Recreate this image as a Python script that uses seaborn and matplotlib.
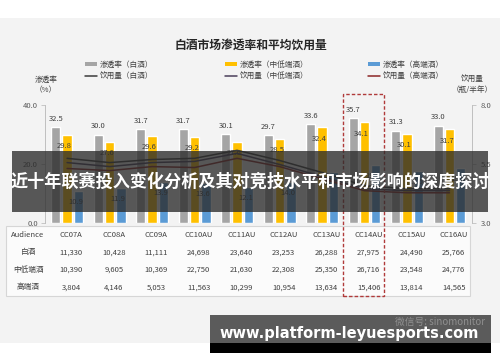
import numpy as np
import pandas as pd
import matplotlib
matplotlib.use('Agg')
import matplotlib.pyplot as plt
import matplotlib.transforms as mtrans
import seaborn as sns
from matplotlib.patches import Rectangle, Patch
from matplotlib.lines import Line2D

# ---------------- data ----------------
cats = ['CC07A', 'CC08A', 'CC09A', 'CC10AU', 'CC11AU', 'CC12AU', 'CC13AU', 'CC14AU', 'CC15AU', 'CC16AU']
rate_baijiu = [32.5, 30.0, 31.7, 31.7, 30.1, 29.7, 33.6, 35.7, 31.3, 33.0]
rate_mid = [29.8, 27.6, 29.6, 29.2, 27.6, 28.5, 32.4, 34.1, 30.1, 31.7]
rate_high = [10.9, 11.9, 13.9, 13.6, 12.1, 14.0, 17.4, 19.7, 17.6, 18.8]
vol_baijiu = [5.74, 5.56, 5.69, 5.74, 6.08, 5.65, 5.14, 4.58, 4.45, 4.45]
vol_mid = [5.56, 5.39, 5.56, 5.61, 5.95, 5.48, 4.97, 4.45, 4.37, 4.37]
vol_high = [5.31, 5.22, 5.39, 5.35, 5.74, 5.39, 4.88, 4.37, 4.28, 4.28]
aud_baijiu = [11330, 10428, 11111, 24698, 23640, 23253, 26288, 27975, 24490, 25766]
aud_mid = [10390, 9605, 10369, 22750, 21630, 22308, 25350, 26716, 23548, 24776]
aud_high = [3804, 4146, 5053, 11563, 10299, 10954, 13634, 15406, 13814, 14565]
bar_names = ['渗透率（白酒）', '渗透率（中低端酒）', '渗透率（高端酒）']
line_names = ['饮用量（白酒）', '饮用量（中低端酒）', '饮用量（高端酒）']
row_labels = ['白酒', '中低端酒', '高端酒']
header_label = 'Audience'
highlight = 'CC14AU'
title = '白酒市场渗透率和平均饮用量'
left_label = '渗透率\n（%）'
right_label = '饮用量\n（瓶/半年）'
left_ticks = [0, 20, 40]
right_ticks = [3.0, 5.5, 8.0]
banner_text = '近十年联赛投入变化分析及其对竞技水平和市场影响的深度探讨'
url_text = 'www.platform-leyuesports.com'
wm_text = '微信号: sinomonitor'

bar_colors = ['#a5a5a5', '#ffc000', '#5b9bd5']
line_colors = ['#3a3a3a', '#4a3e5a', '#8b2525']

# ---------------- setup ----------------
sns.set_theme(style='white')
plt.rcParams['font.family'] = ['Noto Sans CJK SC', 'DejaVu Sans']

W, H = 500, 362
fig = plt.figure(figsize=(5, 3.62), dpi=100)
fig.patch.set_facecolor('white')


def fx(px):
    return px / W


def fy(py):
    return 1 - py / H


fig.add_artist(Rectangle((0, fy(343)), 1, (343 - 18) / H, transform=fig.transFigure,
                         facecolor='#f3f3f3', edgecolor='none', zorder=-5))

ax = fig.add_axes([fx(45), fy(223), fx(472) - fx(45), (223 - 105) / H])
ax.set_facecolor('none')

df = pd.DataFrame({
    'cat': cats * 3,
    'rate': rate_baijiu + rate_mid + rate_high,
    'type': [n for n in bar_names for _ in cats],
})
sns.barplot(data=df, x='cat', y='rate', hue='type', palette=bar_colors,
            width=0.8, gap=0.18, saturation=1, ax=ax, legend=False)

for k, cont in enumerate(ax.containers):
    for rect in cont:
        cx = rect.get_x() + rect.get_width() / 2
        h = rect.get_height()
        if k == 0:
            ax.annotate(f'{h:.1f}', (cx, h), xytext=(0, 3), textcoords='offset points',
                        ha='center', va='bottom', fontsize=5.5, color='#404040')
        else:
            ax.annotate(f'{h:.1f}', (cx, h), xytext=(-2, -8), textcoords='offset points',
                        ha='center', va='center', fontsize=5.5, color='#404040')

ax.set_ylim(0, 40)
ax.set_yticks(left_ticks)
ax.set_yticklabels([f'{t:.1f}' for t in left_ticks])
ax.set_xticks([])
ax.set_xlabel('')
ax.set_ylabel('')
for s in ['top', 'right', 'bottom']:
    ax.spines[s].set_visible(False)
ax.spines['left'].set_color('#bfbfbf')
ax.spines['left'].set_linewidth(0.7)
ax.tick_params(axis='y', length=3, width=0.6, color='#bfbfbf', pad=2, labelsize=5.5,
               labelcolor='#595959', left=True)

ax2 = ax.twinx()
xs = np.arange(len(cats))
for vals, col in zip([vol_baijiu, vol_mid, vol_high], line_colors):
    sns.lineplot(x=xs, y=vals, ax=ax2, color=col, lw=1.1)
ax2.set_ylim(3, 8)
ax2.set_yticks(right_ticks)
ax2.set_yticklabels([f'{t:.1f}' for t in right_ticks])
ax2.set_ylabel('')
for s in ['top', 'left', 'bottom']:
    ax2.spines[s].set_visible(False)
ax2.spines['right'].set_color('#bfbfbf')
ax2.spines['right'].set_linewidth(0.7)
ax2.tick_params(axis='y', length=3, width=0.6, color='#bfbfbf', pad=3, labelsize=5.5,
                labelcolor='#595959', right=True)

xl = (-0.52, 9.53)
ax.set_xlim(*xl)
ax2.set_xlim(*xl)

# ---------------- table ----------------
fig.add_artist(Rectangle((fx(6), fy(296)), fx(470) - fx(6), (296 - 226) / H,
                         transform=fig.transFigure, facecolor='#fbfbfb',
                         edgecolor='#d6d6d6', lw=0.8, zorder=-2))
tab = fig.add_axes([fx(45), fy(296), fx(472) - fx(45), (296 - 226) / H])
tab.set_xlim(*xl)
tab.set_ylim(4, 0)
tab.axis('off')
rows = [cats,
        [f'{v:,}' for v in aud_baijiu],
        [f'{v:,}' for v in aud_mid],
        [f'{v:,}' for v in aud_high]]
firsts = [header_label] + row_labels
blend_tab = mtrans.blended_transform_factory(fig.transFigure, tab.transData)
for r, (first, vals) in enumerate(zip(firsts, rows)):
    tab.text(fx(28), r + 0.5, first, transform=blend_tab, ha='center', va='center',
             fontsize=5.5, color='#404040')
    for i, v in enumerate(vals):
        tab.text(i + 0.1, r + 0.5, v, ha='center', va='center', fontsize=5.5, color='#404040')

# highlight box
hi = cats.index(highlight)
blend = mtrans.blended_transform_factory(ax.transData, fig.transFigure)
fig.add_artist(Rectangle((hi - 0.51, fy(296)), 0.97, (296 - 94) / H, transform=blend,
                         fill=False, edgecolor='#b03a3a', lw=1.0, ls=(0, (2.5, 1.5)),
                         zorder=5))

# ---------------- legend ----------------
legend_x = [85, 225, 368]
for k in range(3):
    handles = [Patch(facecolor=bar_colors[k], edgecolor='none'),
               Line2D([0], [0], color=line_colors[k], lw=1.1)]
    lg = fig.legend(handles, [bar_names[k], line_names[k]], loc='upper left',
                    bbox_to_anchor=(fx(legend_x[k]), fy(61)), frameon=False,
                    fontsize=5.5, handlelength=1.6, handleheight=0.5,
                    handletextpad=0.3, labelspacing=0.5, borderpad=0, borderaxespad=0)
    for t in lg.get_texts():
        t.set_color('#404040')

# ---------------- texts ----------------
fig.text(fx(251), fy(45), title, ha='center', va='center', fontsize=8.5,
         fontweight='bold', color='#262626')
fig.text(fx(46), fy(85), left_label, ha='center', va='center', fontsize=5.5,
         color='#404040', linespacing=1.3)
fig.text(fx(472), fy(85), right_label, ha='center', va='center', fontsize=5.5,
         color='#404040', linespacing=1.3)

# ---------------- overlays ----------------
fig.add_artist(Rectangle((fx(12), fy(212)), fx(488) - fx(12), (212 - 151) / H,
                         transform=fig.transFigure, facecolor='#2b2b2b', alpha=0.78,
                         edgecolor='none', zorder=10))
fig.text(fx(250), fy(182), banner_text, ha='center', va='center', fontsize=12.3,
         fontweight='bold', color='white', zorder=11)

fig.add_artist(Rectangle((fx(210), fy(343)), fx(491) - fx(210), (343 - 315) / H,
                         transform=fig.transFigure, facecolor='#5b5b5b',
                         edgecolor='none', zorder=10))
fig.add_artist(Rectangle((fx(210), fy(353)), fx(491) - fx(210), (353 - 343) / H,
                         transform=fig.transFigure, facecolor='black',
                         edgecolor='none', zorder=10))
fig.text(fx(485), fy(322), wm_text, ha='right', va='center', fontsize=7,
         color='#8f8f8f', zorder=11)
fig.text(fx(349), fy(338), url_text, ha='center', va='baseline', fontsize=10.5,
         fontweight='bold', color='white', family='DejaVu Sans', zorder=12)

fig.savefig('out.png', dpi=100, facecolor='white')
